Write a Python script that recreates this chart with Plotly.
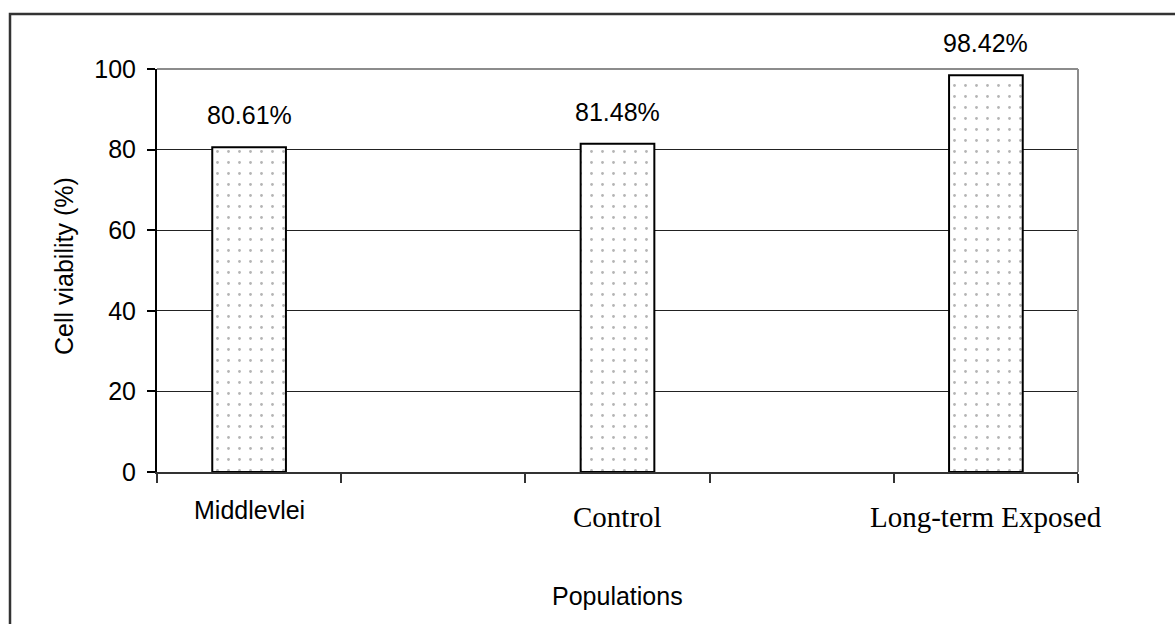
import plotly.graph_objects as go

# Cell viability per population
categories = ["Middlevlei", "Control", "Long-term Exposed"]
viability = [80.61, 81.48, 98.42]
y_ticks = [0, 20, 40, 60, 80, 100]

SANS = "Arial, Liberation Sans, sans-serif"
SERIF = "Times New Roman, Liberation Serif, serif"
label_fonts = [SANS, SERIF, SERIF]
label_sizes = [25, 29, 29]

# each population sits in every other slot of a five-slot axis
slot_x = [2 * i for i in range(len(categories))]
n_slots = 2 * len(categories) - 1
boundaries = [i - 0.5 for i in range(n_slots + 1)]

W, H = 1175, 624
L, R, T, B = 157, 97, 69, 152
pw, ph = W - L - R, H - T - B


def px_x(p):
    return (p - L) / pw


def px_y(p):
    return (H - B - p) / ph


fig = go.Figure()
fig.add_trace(go.Bar(
    x=slot_x,
    y=viability,
    width=0.4,
    marker=dict(
        color="white",
        line=dict(color="black", width=2),
        pattern=dict(shape=".", fgcolor="#6a6a6a", bgcolor="white",
                     size=11, solidity=0.05),
    ),
    hoverinfo="skip",
))

annotations = []
# value labels above bars
for xv, v in zip(slot_x, viability):
    annotations.append(dict(
        x=xv, y=v, xref="x", yref="y", text=f"{v:.2f}%",
        showarrow=False, yanchor="bottom", yshift=16,
        font=dict(family=SANS, size=25, color="black"),
    ))
# category labels under the axis
for xv, name, fam, sz in zip(slot_x, categories, label_fonts, label_sizes):
    annotations.append(dict(
        x=xv, y=0, xref="x", yref="y", text=name,
        showarrow=False, yanchor="top", yshift=-22 if fam == SANS else -27,
        font=dict(family=fam, size=sz, color="black"),
    ))
# axis titles
annotations.append(dict(
    x=0.5, y=px_y(596), xref="paper", yref="paper", text="Populations",
    showarrow=False, xanchor="center", yanchor="middle",
    font=dict(family=SANS, size=25, color="black"),
))
annotations.append(dict(
    x=px_x(64), y=px_y(266), xref="paper", yref="paper",
    text="Cell viability (%)", textangle=-90,
    showarrow=False, xanchor="center", yanchor="middle",
    font=dict(family=SANS, size=25, color="black"),
))

shapes = [
    # outer frame
    dict(type="rect", xref="paper", yref="paper",
         x0=px_x(10), y0=px_y(14), x1=px_x(W + 20), y1=px_y(H + 20),
         line=dict(color="#333333", width=2.5), fillcolor="rgba(0,0,0,0)"),
    # grey plot-area border on top and right
    dict(type="line", xref="paper", yref="paper", x0=0, y0=1, x1=1, y1=1,
         line=dict(color="#8c8c8c", width=2)),
    dict(type="line", xref="paper", yref="paper", x0=1, y0=0, x1=1, y1=1,
         line=dict(color="#8c8c8c", width=2)),
]

fig.update_layout(
    width=W, height=H,
    margin=dict(l=L, r=R, t=T, b=B),
    paper_bgcolor="white", plot_bgcolor="white",
    showlegend=False,
    annotations=annotations,
    shapes=shapes,
    xaxis=dict(
        range=[-0.5, n_slots - 0.5],
        tickvals=slot_x, showticklabels=False, ticks="",
        showgrid=False, zeroline=False,
        showline=True, linecolor="#333333", linewidth=1.5,
        minor=dict(tickmode="array", tickvals=boundaries, ticks="outside",
                   ticklen=9, tickwidth=1.5, tickcolor="#333333",
                   showgrid=False),
    ),
    yaxis=dict(
        range=[0, 100], tickvals=y_ticks,
        ticks="outside", ticklen=8, tickwidth=1.5, tickcolor="black",
        showline=True, linecolor="black", linewidth=2,
        showgrid=True, gridcolor="#222222", gridwidth=1,
        zeroline=False,
        tickfont=dict(family=SANS, size=25, color="black"),
        ticklabelstandoff=6,
    ),
)

fig.write_html("out.html")
